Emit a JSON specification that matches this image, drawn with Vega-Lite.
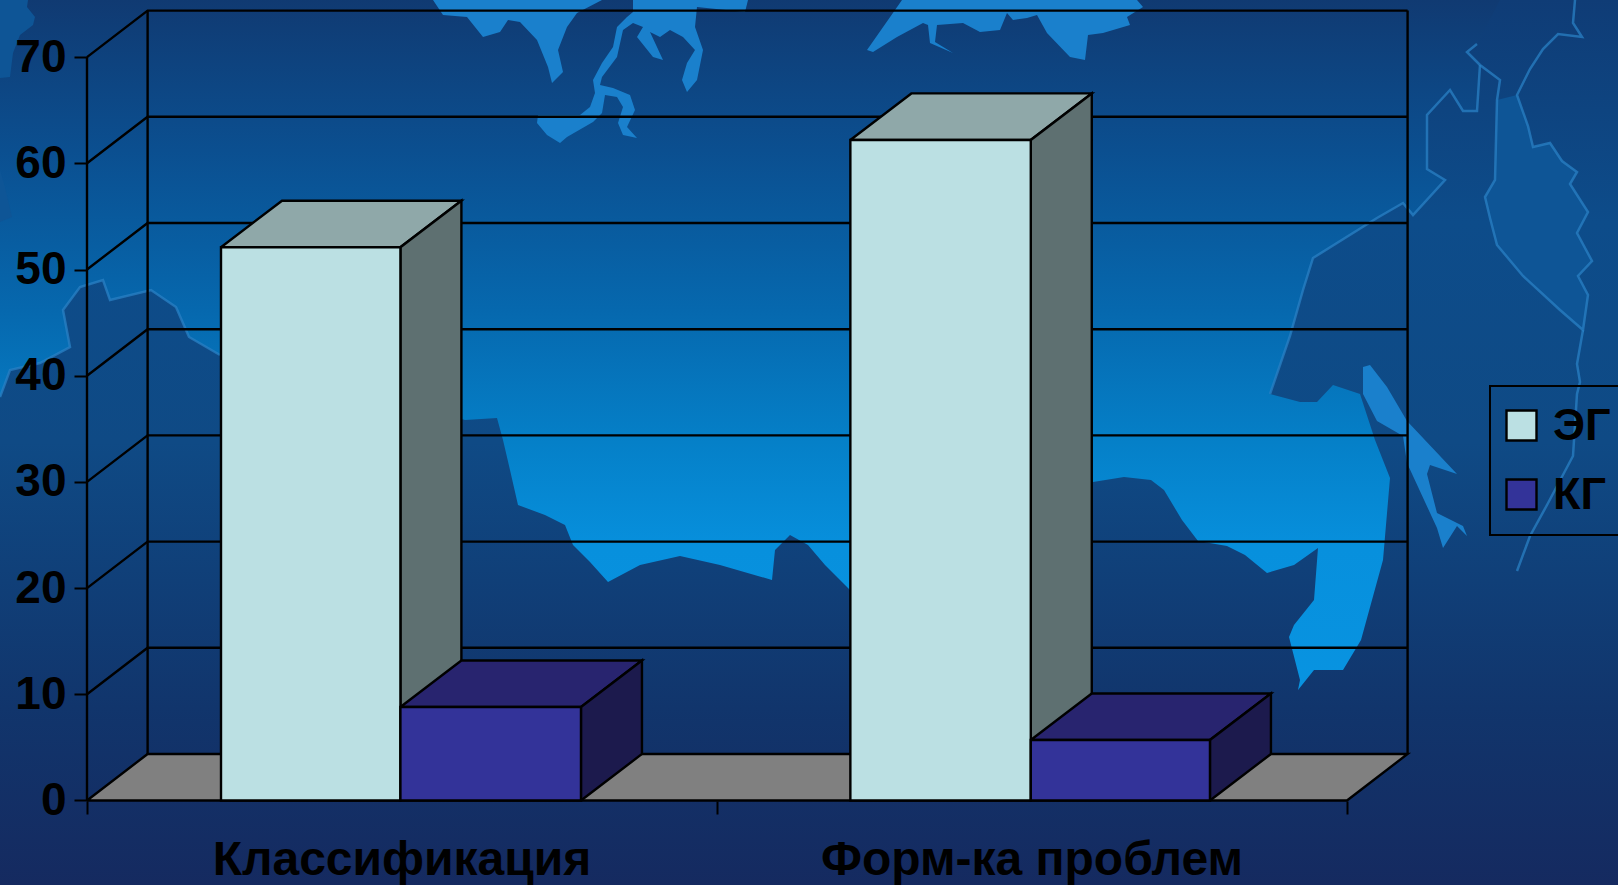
{"$schema":"https://vega.github.io/schema/vega-lite/v6.json","width":1618,"height":885,"autosize":{"type":"none"},"padding":0,"background":"#123b74",
"config":{"view":{"stroke":null},"legend":{"strokeWidth":2}},
"datasets":{
"sky":[{"a":0,"b":1618,"c":0,"d":885}],
"land":[
{"s":"A","i":0,"x":0,"y":397},{"s":"A","i":1,"x":10,"y":370},{"s":"A","i":2,"x":40,"y":363},{"s":"A","i":3,"x":70,"y":347},{"s":"A","i":4,"x":63,"y":310},{"s":"A","i":5,"x":80,"y":287},{"s":"A","i":6,"x":103,"y":280},{"s":"A","i":7,"x":110,"y":300},{"s":"A","i":8,"x":151,"y":290},{"s":"A","i":9,"x":176,"y":307},{"s":"A","i":10,"x":189,"y":337},{"s":"A","i":11,"x":220,"y":355},{"s":"A","i":12,"x":400,"y":400},{"s":"A","i":13,"x":465,"y":420},{"s":"A","i":14,"x":497,"y":418},{"s":"A","i":15,"x":503,"y":440},{"s":"A","i":16,"x":510,"y":470},{"s":"A","i":17,"x":518,"y":505},{"s":"A","i":18,"x":545,"y":515},{"s":"A","i":19,"x":565,"y":525},{"s":"A","i":20,"x":573,"y":545},{"s":"A","i":21,"x":590,"y":562},{"s":"A","i":22,"x":608,"y":582},{"s":"A","i":23,"x":640,"y":565},{"s":"A","i":24,"x":680,"y":556},{"s":"A","i":25,"x":720,"y":565},{"s":"A","i":26,"x":772,"y":580},{"s":"A","i":27,"x":775,"y":550},{"s":"A","i":28,"x":790,"y":535},{"s":"A","i":29,"x":808,"y":545},{"s":"A","i":30,"x":825,"y":565},{"s":"A","i":31,"x":850,"y":590},{"s":"A","i":32,"x":1000,"y":560},{"s":"A","i":33,"x":1093,"y":482},{"s":"A","i":34,"x":1124,"y":477},{"s":"A","i":35,"x":1151,"y":480},{"s":"A","i":36,"x":1164,"y":490},{"s":"A","i":37,"x":1182,"y":520},{"s":"A","i":38,"x":1198,"y":541},{"s":"A","i":39,"x":1227,"y":546},{"s":"A","i":40,"x":1245,"y":555},{"s":"A","i":41,"x":1267,"y":573},{"s":"A","i":42,"x":1294,"y":565},{"s":"A","i":43,"x":1318,"y":548},{"s":"A","i":44,"x":1314,"y":600},{"s":"A","i":45,"x":1294,"y":625},{"s":"A","i":46,"x":1289,"y":637},{"s":"A","i":47,"x":1300,"y":680},{"s":"A","i":48,"x":1298,"y":690},{"s":"A","i":49,"x":1314,"y":670},{"s":"A","i":50,"x":1343,"y":670},{"s":"A","i":51,"x":1361,"y":640},{"s":"A","i":52,"x":1383,"y":560},{"s":"A","i":53,"x":1390,"y":478},{"s":"A","i":54,"x":1375,"y":440},{"s":"A","i":56,"x":1360,"y":394},{"s":"A","i":57,"x":1333,"y":385},{"s":"A","i":58,"x":1317,"y":402},{"s":"A","i":59,"x":1300,"y":402},{"s":"A","i":60,"x":1270,"y":394},{"s":"A","i":61,"x":1290,"y":336},{"s":"A","i":62,"x":1303,"y":290},{"s":"A","i":63,"x":1313,"y":258},{"s":"A","i":64,"x":1377,"y":218},{"s":"A","i":65,"x":1403,"y":203},{"s":"A","i":66,"x":1413,"y":215},{"s":"A","i":67,"x":1445,"y":180},{"s":"A","i":68,"x":1427,"y":169},{"s":"A","i":69,"x":1427,"y":115},{"s":"A","i":70,"x":1450,"y":90},{"s":"A","i":71,"x":1463,"y":111},{"s":"A","i":72,"x":1477,"y":111},{"s":"A","i":73,"x":1480,"y":65},{"s":"A","i":74,"x":1467,"y":52},{"s":"A","i":75,"x":1477,"y":44},{"s":"A","i":76,"x":1500,"y":0},{"s":"A","i":77,"x":1618,"y":0},{"s":"A","i":78,"x":1618,"y":885},{"s":"A","i":79,"x":0,"y":885},{"s":"A","i":80,"x":0,"y":397}],
"water":[
{"s":"W1","i":0,"x":433,"y":0},{"s":"W1","i":1,"x":443,"y":15},{"s":"W1","i":2,"x":467,"y":17},{"s":"W1","i":3,"x":483,"y":37},{"s":"W1","i":4,"x":500,"y":32},{"s":"W1","i":5,"x":508,"y":20},{"s":"W1","i":6,"x":520,"y":22},{"s":"W1","i":7,"x":537,"y":40},{"s":"W1","i":8,"x":548,"y":67},{"s":"W1","i":9,"x":552,"y":83},{"s":"W1","i":10,"x":563,"y":72},{"s":"W1","i":11,"x":558,"y":50},{"s":"W1","i":12,"x":567,"y":27},{"s":"W1","i":13,"x":577,"y":13},{"s":"W1","i":14,"x":602,"y":0},{"s":"W1","i":15,"x":433,"y":0},
{"s":"W2","i":0,"x":633,"y":0},{"s":"W2","i":1,"x":748,"y":0},{"s":"W2","i":2,"x":745,"y":12},{"s":"W2","i":3,"x":697,"y":7},{"s":"W2","i":4,"x":695,"y":27},{"s":"W2","i":5,"x":703,"y":50},{"s":"W2","i":6,"x":697,"y":80},{"s":"W2","i":7,"x":687,"y":92},{"s":"W2","i":8,"x":682,"y":80},{"s":"W2","i":9,"x":687,"y":63},{"s":"W2","i":10,"x":695,"y":50},{"s":"W2","i":11,"x":683,"y":37},{"s":"W2","i":12,"x":670,"y":30},{"s":"W2","i":13,"x":660,"y":37},{"s":"W2","i":14,"x":650,"y":32},{"s":"W2","i":15,"x":663,"y":60},{"s":"W2","i":16,"x":653,"y":57},{"s":"W2","i":17,"x":637,"y":37},{"s":"W2","i":18,"x":643,"y":27},{"s":"W2","i":19,"x":633,"y":23},{"s":"W2","i":20,"x":623,"y":30},{"s":"W2","i":21,"x":617,"y":57},{"s":"W2","i":22,"x":602,"y":77},{"s":"W2","i":23,"x":600,"y":85},{"s":"W2","i":24,"x":613,"y":88},{"s":"W2","i":25,"x":630,"y":95},{"s":"W2","i":26,"x":635,"y":110},{"s":"W2","i":27,"x":627,"y":127},{"s":"W2","i":28,"x":637,"y":138},{"s":"W2","i":29,"x":623,"y":135},{"s":"W2","i":30,"x":618,"y":123},{"s":"W2","i":31,"x":623,"y":107},{"s":"W2","i":32,"x":617,"y":97},{"s":"W2","i":33,"x":605,"y":95},{"s":"W2","i":34,"x":602,"y":113},{"s":"W2","i":35,"x":593,"y":122},{"s":"W2","i":36,"x":567,"y":137},{"s":"W2","i":37,"x":560,"y":143},{"s":"W2","i":38,"x":547,"y":135},{"s":"W2","i":39,"x":537,"y":123},{"s":"W2","i":40,"x":538,"y":115},{"s":"W2","i":41,"x":580,"y":115},{"s":"W2","i":42,"x":590,"y":107},{"s":"W2","i":43,"x":595,"y":93},{"s":"W2","i":44,"x":593,"y":80},{"s":"W2","i":45,"x":602,"y":63},{"s":"W2","i":46,"x":613,"y":47},{"s":"W2","i":47,"x":617,"y":27},{"s":"W2","i":48,"x":627,"y":17},{"s":"W2","i":49,"x":633,"y":12},{"s":"W2","i":50,"x":633,"y":0},
{"s":"W3","i":0,"x":902,"y":0},{"s":"W3","i":1,"x":867,"y":50},{"s":"W3","i":2,"x":873,"y":52},{"s":"W3","i":3,"x":897,"y":37},{"s":"W3","i":4,"x":923,"y":23},{"s":"W3","i":5,"x":928,"y":25},{"s":"W3","i":6,"x":930,"y":43},{"s":"W3","i":7,"x":953,"y":53},{"s":"W3","i":8,"x":935,"y":42},{"s":"W3","i":9,"x":937,"y":25},{"s":"W3","i":10,"x":963,"y":23},{"s":"W3","i":11,"x":980,"y":32},{"s":"W3","i":12,"x":1000,"y":30},{"s":"W3","i":13,"x":1007,"y":13},{"s":"W3","i":14,"x":1013,"y":20},{"s":"W3","i":15,"x":1027,"y":18},{"s":"W3","i":16,"x":1037,"y":15},{"s":"W3","i":17,"x":1047,"y":33},{"s":"W3","i":18,"x":1070,"y":57},{"s":"W3","i":19,"x":1085,"y":60},{"s":"W3","i":20,"x":1088,"y":35},{"s":"W3","i":21,"x":1103,"y":33},{"s":"W3","i":22,"x":1130,"y":25},{"s":"W3","i":23,"x":1127,"y":17},{"s":"W3","i":24,"x":1143,"y":7},{"s":"W3","i":25,"x":1137,"y":0},{"s":"W3","i":26,"x":902,"y":0},
{"s":"S","i":0,"x":1363,"y":367},{"s":"S","i":1,"x":1370,"y":365},{"s":"S","i":2,"x":1387,"y":387},{"s":"S","i":3,"x":1407,"y":421},{"s":"S","i":4,"x":1457,"y":474},{"s":"S","i":5,"x":1430,"y":465},{"s":"S","i":6,"x":1427,"y":474},{"s":"S","i":7,"x":1437,"y":513},{"s":"S","i":8,"x":1463,"y":526},{"s":"S","i":9,"x":1467,"y":536},{"s":"S","i":10,"x":1457,"y":526},{"s":"S","i":11,"x":1443,"y":548},{"s":"S","i":12,"x":1437,"y":528},{"s":"S","i":13,"x":1407,"y":463},{"s":"S","i":14,"x":1403,"y":436},{"s":"S","i":15,"x":1377,"y":421},{"s":"S","i":16,"x":1363,"y":394},{"s":"S","i":17,"x":1363,"y":367}],
"pale":[
{"s":"K","i":0,"x":1497,"y":100},{"s":"K","i":1,"x":1517,"y":95},{"s":"K","i":2,"x":1528,"y":126},{"s":"K","i":3,"x":1533,"y":147},{"s":"K","i":4,"x":1550,"y":143},{"s":"K","i":5,"x":1562,"y":161},{"s":"K","i":6,"x":1577,"y":172},{"s":"K","i":7,"x":1570,"y":184},{"s":"K","i":8,"x":1588,"y":212},{"s":"K","i":9,"x":1577,"y":233},{"s":"K","i":10,"x":1592,"y":261},{"s":"K","i":11,"x":1578,"y":276},{"s":"K","i":12,"x":1588,"y":295},{"s":"K","i":13,"x":1583,"y":330},{"s":"K","i":14,"x":1560,"y":310},{"s":"K","i":15,"x":1523,"y":276},{"s":"K","i":16,"x":1497,"y":245},{"s":"K","i":17,"x":1490,"y":218},{"s":"K","i":18,"x":1485,"y":197},{"s":"K","i":19,"x":1495,"y":180},{"s":"K","i":20,"x":1497,"y":100},
{"s":"NW","i":0,"x":0,"y":0},{"s":"NW","i":1,"x":28,"y":0},{"s":"NW","i":2,"x":27,"y":7},{"s":"NW","i":3,"x":35,"y":17},{"s":"NW","i":4,"x":33,"y":25},{"s":"NW","i":5,"x":20,"y":35},{"s":"NW","i":6,"x":13,"y":53},{"s":"NW","i":7,"x":10,"y":77},{"s":"NW","i":8,"x":0,"y":78},{"s":"NW","i":9,"x":0,"y":0},
{"s":"WW","i":0,"x":0,"y":170},{"s":"WW","i":1,"x":5,"y":187},{"s":"WW","i":2,"x":12,"y":217},{"s":"WW","i":3,"x":0,"y":222},{"s":"WW","i":4,"x":0,"y":170}],
"coast":[
{"s":"c1","i":0,"x":1575,"y":0},{"s":"c1","i":1,"x":1573,"y":23},{"s":"c1","i":2,"x":1582,"y":37},{"s":"c1","i":3,"x":1558,"y":34},{"s":"c1","i":4,"x":1543,"y":49},{"s":"c1","i":5,"x":1530,"y":69},{"s":"c1","i":6,"x":1517,"y":95},{"s":"c1","i":7,"x":1528,"y":126},{"s":"c1","i":8,"x":1533,"y":147},{"s":"c1","i":9,"x":1550,"y":143},{"s":"c1","i":10,"x":1562,"y":161},{"s":"c1","i":11,"x":1577,"y":172},{"s":"c1","i":12,"x":1570,"y":184},{"s":"c1","i":13,"x":1588,"y":212},{"s":"c1","i":14,"x":1577,"y":233},{"s":"c1","i":15,"x":1592,"y":261},{"s":"c1","i":16,"x":1578,"y":276},{"s":"c1","i":17,"x":1588,"y":295},{"s":"c1","i":18,"x":1583,"y":330},{"s":"c1","i":19,"x":1560,"y":310},{"s":"c1","i":20,"x":1523,"y":276},{"s":"c1","i":21,"x":1497,"y":245},{"s":"c1","i":22,"x":1490,"y":218},{"s":"c1","i":23,"x":1485,"y":197},{"s":"c1","i":24,"x":1495,"y":180},{"s":"c1","i":25,"x":1497,"y":100},{"s":"c1","i":26,"x":1500,"y":80},{"s":"c1","i":27,"x":1480,"y":65},{"s":"c1","i":28,"x":1467,"y":52},{"s":"c1","i":29,"x":1477,"y":44},
{"s":"c2","i":0,"x":1480,"y":65},{"s":"c2","i":1,"x":1477,"y":111},{"s":"c2","i":2,"x":1463,"y":111},{"s":"c2","i":3,"x":1450,"y":90},{"s":"c2","i":4,"x":1427,"y":115},{"s":"c2","i":5,"x":1427,"y":169},{"s":"c2","i":6,"x":1445,"y":180},{"s":"c2","i":7,"x":1413,"y":215},{"s":"c2","i":8,"x":1403,"y":203},{"s":"c2","i":9,"x":1377,"y":218},{"s":"c2","i":10,"x":1313,"y":258},{"s":"c2","i":11,"x":1303,"y":290},{"s":"c2","i":12,"x":1290,"y":336},{"s":"c2","i":13,"x":1270,"y":394},
{"s":"c3","i":0,"x":1583,"y":330},{"s":"c3","i":1,"x":1577,"y":364},{"s":"c3","i":2,"x":1580,"y":382},{"s":"c3","i":3,"x":1577,"y":394},{"s":"c3","i":4,"x":1573,"y":456},{"s":"c3","i":5,"x":1547,"y":505},{"s":"c3","i":6,"x":1530,"y":536},{"s":"c3","i":7,"x":1517,"y":571},
{"s":"c4","i":0,"x":0,"y":397},{"s":"c4","i":1,"x":10,"y":370},{"s":"c4","i":2,"x":40,"y":363},{"s":"c4","i":3,"x":70,"y":347},{"s":"c4","i":4,"x":63,"y":310},{"s":"c4","i":5,"x":80,"y":287},{"s":"c4","i":6,"x":103,"y":280},{"s":"c4","i":7,"x":110,"y":300},{"s":"c4","i":8,"x":151,"y":290},{"s":"c4","i":9,"x":176,"y":307},{"s":"c4","i":10,"x":189,"y":337},{"s":"c4","i":11,"x":220,"y":355}],
"floor":[{"i":0,"x":0,"y":0},{"i":1,"x":0.0962,"y":4.38},{"i":2,"x":2.0962,"y":4.38},{"i":3,"x":2,"y":0},{"i":4,"x":0,"y":0}],
"grid":[
{"s":"g10","i":0,"x":0,"y":10},{"s":"g10","i":1,"x":0.0962,"y":14.38},{"s":"g10","i":2,"x":2.0962,"y":14.38},
{"s":"g20","i":0,"x":0,"y":20},{"s":"g20","i":1,"x":0.0962,"y":24.38},{"s":"g20","i":2,"x":2.0962,"y":24.38},
{"s":"g30","i":0,"x":0,"y":30},{"s":"g30","i":1,"x":0.0962,"y":34.38},{"s":"g30","i":2,"x":2.0962,"y":34.38},
{"s":"g40","i":0,"x":0,"y":40},{"s":"g40","i":1,"x":0.0962,"y":44.38},{"s":"g40","i":2,"x":2.0962,"y":44.38},
{"s":"g50","i":0,"x":0,"y":50},{"s":"g50","i":1,"x":0.0962,"y":54.38},{"s":"g50","i":2,"x":2.0962,"y":54.38},
{"s":"g60","i":0,"x":0,"y":60},{"s":"g60","i":1,"x":0.0962,"y":64.38},{"s":"g60","i":2,"x":2.0962,"y":64.38},
{"s":"g70","i":0,"x":0,"y":70},{"s":"g70","i":1,"x":0.0962,"y":74.38},{"s":"g70","i":2,"x":2.0962,"y":74.38},
{"s":"wa","i":0,"x":0,"y":0},{"s":"wa","i":1,"x":0,"y":70},
{"s":"wb","i":0,"x":0.0962,"y":4.38},{"s":"wb","i":1,"x":0.0962,"y":74.38},
{"s":"wc","i":0,"x":2.0962,"y":4.38},{"s":"wc","i":1,"x":2.0962,"y":74.38}],
"facesEG":[
{"s":"t1","face":"top","i":0,"x":0.2127,"y":52.1},{"s":"t1","face":"top","i":1,"x":0.3095,"y":56.48},{"s":"t1","face":"top","i":2,"x":0.5943,"y":56.48},{"s":"t1","face":"top","i":3,"x":0.4975,"y":52.1},{"s":"t1","face":"top","i":4,"x":0.2127,"y":52.1},
{"s":"s1","face":"side","i":0,"x":0.4975,"y":0},{"s":"s1","face":"side","i":1,"x":0.5943,"y":4.38},{"s":"s1","face":"side","i":2,"x":0.5943,"y":56.48},{"s":"s1","face":"side","i":3,"x":0.4975,"y":52.1},{"s":"s1","face":"side","i":4,"x":0.4975,"y":0},
{"s":"t2","face":"top","i":0,"x":1.2117,"y":62.2},{"s":"t2","face":"top","i":1,"x":1.3085,"y":66.58},{"s":"t2","face":"top","i":2,"x":1.5949,"y":66.58},{"s":"t2","face":"top","i":3,"x":1.4981,"y":62.2},{"s":"t2","face":"top","i":4,"x":1.2117,"y":62.2},
{"s":"s2","face":"side","i":0,"x":1.4981,"y":0},{"s":"s2","face":"side","i":1,"x":1.5949,"y":4.38},{"s":"s2","face":"side","i":2,"x":1.5949,"y":66.58},{"s":"s2","face":"side","i":3,"x":1.4981,"y":62.2},{"s":"s2","face":"side","i":4,"x":1.4981,"y":0}],
"facesKG":[
{"s":"t3","face":"kg top","i":0,"x":0.4975,"y":8.8},{"s":"t3","face":"kg top","i":1,"x":0.5943,"y":13.18},{"s":"t3","face":"kg top","i":2,"x":0.8809,"y":13.18},{"s":"t3","face":"kg top","i":3,"x":0.7841,"y":8.8},{"s":"t3","face":"kg top","i":4,"x":0.4975,"y":8.8},
{"s":"s3","face":"kg side","i":0,"x":0.7841,"y":0},{"s":"s3","face":"kg side","i":1,"x":0.8809,"y":4.38},{"s":"s3","face":"kg side","i":2,"x":0.8809,"y":13.18},{"s":"s3","face":"kg side","i":3,"x":0.7841,"y":8.8},{"s":"s3","face":"kg side","i":4,"x":0.7841,"y":0},
{"s":"t4","face":"kg top","i":0,"x":1.4981,"y":5.7},{"s":"t4","face":"kg top","i":1,"x":1.5949,"y":10.08},{"s":"t4","face":"kg top","i":2,"x":1.8793,"y":10.08},{"s":"t4","face":"kg top","i":3,"x":1.7825,"y":5.7},{"s":"t4","face":"kg top","i":4,"x":1.4981,"y":5.7},
{"s":"s4","face":"kg side","i":0,"x":1.7825,"y":0},{"s":"s4","face":"kg side","i":1,"x":1.8793,"y":4.38},{"s":"s4","face":"kg side","i":2,"x":1.8793,"y":10.08},{"s":"s4","face":"kg side","i":3,"x":1.7825,"y":5.7},{"s":"s4","face":"kg side","i":4,"x":1.7825,"y":0}],
"bars":[
{"series":"ЭГ","category":"Классификация","x":0.2127,"x2":0.4975,"y":52.1,"y2":0},
{"series":"КГ","category":"Классификация","x":0.4975,"x2":0.7841,"y":8.8,"y2":0},
{"series":"ЭГ","category":"Форм-ка проблем","x":1.2117,"x2":1.4981,"y":62.2,"y2":0},
{"series":"КГ","category":"Форм-ка проблем","x":1.4981,"x2":1.7825,"y":5.7,"y2":0}],
"labels":[{"label":"Классификация","x":0.5,"y":-7},{"label":"Форм-ка проблем","x":1.5,"y":-7}]
},
"resolve":{"scale":{"x":"independent","y":"independent"}},
"layer":[
{"encoding":{"x":{"field":"x","type":"quantitative","scale":{"domain":[0,1618],"nice":false,"zero":false},"axis":null},"y":{"field":"y","type":"quantitative","scale":{"domain":[885,0],"nice":false,"zero":false},"axis":null},"order":{"field":"i"},"detail":{"field":"s"}},
"layer":[
{"data":{"name":"sky"},"mark":{"type":"rect","fill":{"gradient":"linear","x1":0,"y1":0,"x2":0,"y2":1,"stops":[{"offset":0,"color":"#103a72"},{"offset":0.17,"color":"#0b4f90"},{"offset":0.35,"color":"#0668ae"},{"offset":0.5,"color":"#0580c8"},{"offset":0.62,"color":"#0790dd"},{"offset":1,"color":"#0a98e6"}]}},"encoding":{"x":{"field":"a"},"x2":{"field":"b"},"y":{"field":"c"},"y2":{"field":"d"},"order":null,"detail":null}},
{"data":{"name":"land"},"mark":{"type":"line","stroke":"transparent","fill":{"gradient":"linear","x1":0,"y1":0,"x2":0,"y2":1,"stops":[{"offset":0,"color":"#0f3c76"},{"offset":0.25,"color":"#0d4c8a"},{"offset":0.5,"color":"#0f4a85"},{"offset":0.8,"color":"#11356c"},{"offset":1,"color":"#152a60"}]}}},
{"data":{"name":"pale"},"mark":{"type":"line","stroke":"transparent","fill":"#0e5596"}},
{"data":{"name":"water"},"mark":{"type":"line","stroke":"transparent","fill":"#1a80cc"}},
{"data":{"name":"coast"},"mark":{"type":"line","stroke":"#2a80c4","strokeWidth":2.5,"opacity":0.75}}
]},
{"encoding":{"x":{"field":"x","type":"quantitative","scale":{"domain":[-0.1381,2.4302],"nice":false,"zero":false},"axis":{"title":null,"values":[0,1,2],"labels":false,"grid":false,"domain":false,"offset":-84,"tickSize":13,"tickWidth":2,"tickColor":"#000000","zindex":1}},"y":{"field":"y","type":"quantitative","scale":{"domain":[-7.957,75.377],"nice":false,"zero":false},"axis":{"title":null,"values":[0,10,20,30,40,50,60,70],"grid":false,"domain":false,"offset":-87,"tickSize":13,"tickWidth":2,"tickColor":"#000000","labelFont":"Liberation Sans","labelFontWeight":"bold","labelFontSize":46,"labelColor":"#000000","labelPadding":8,"zindex":1}}},
"layer":[
{"data":{"name":"floor"},"mark":{"type":"line","stroke":"#000000","strokeWidth":2.4,"fill":"#808080"},"encoding":{"order":{"field":"i"}}},
{"data":{"name":"grid"},"mark":{"type":"line","stroke":"#000000","strokeWidth":2.4},"encoding":{"order":{"field":"i"},"detail":{"field":"s"}}},
{"data":{"name":"facesEG"},"mark":{"type":"line","stroke":"#000000","strokeWidth":2.4},"encoding":{"order":{"field":"i"},"detail":{"field":"s"},"fill":{"field":"face","type":"nominal","scale":{"domain":["top","side","kg top","kg side"],"range":["#8fa8a9","#5e7071","#28246f","#1c1a4d"]},"legend":null}}},
{"data":{"name":"facesKG"},"mark":{"type":"line","stroke":"#000000","strokeWidth":2.4},"encoding":{"order":{"field":"i"},"detail":{"field":"s"},"fill":{"field":"face","type":"nominal","scale":{"domain":["top","side","kg top","kg side"],"range":["#8fa8a9","#5e7071","#28246f","#1c1a4d"]},"legend":null}}},
{"data":{"name":"bars"},"mark":{"type":"rect","stroke":"#000000","strokeWidth":2.4},"encoding":{"x2":{"field":"x2"},"y2":{"field":"y2"},"color":{"field":"series","type":"nominal","sort":null,"scale":{"domain":["ЭГ","КГ"],"range":["#bbe0e3","#333399"]},"legend":{"title":null,"orient":"none","legendX":1490,"legendY":386,"padding":17,"strokeColor":"#000000","symbolType":"square","symbolSize":900,"symbolOffset":-8,"symbolStrokeColor":"#000000","symbolStrokeWidth":2.4,"symbolOpacity":1,"labelFont":"Liberation Sans","labelFontWeight":"bold","labelFontSize":45,"labelOffset":9,"labelColor":"#000000","labelLimit":200,"rowPadding":23}}}},
{"data":{"name":"labels"},"mark":{"type":"text","font":"Liberation Sans","fontWeight":"bold","fontSize":48,"color":"#000000","baseline":"alphabetic","align":"center"},"encoding":{"text":{"field":"label"}}}
]}
]}
